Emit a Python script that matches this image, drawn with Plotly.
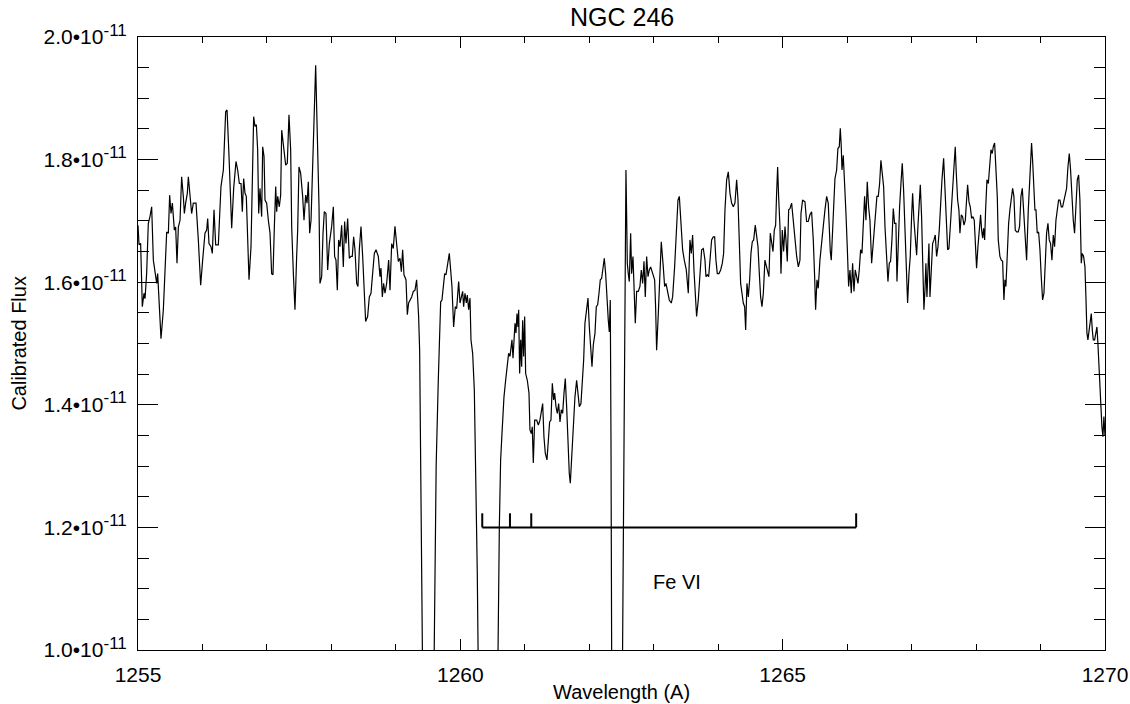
import plotly.graph_objects as go

# ---------------- data (flux in units of 1e-11) ----------------
WAVELENGTH = [
    1255.000, 1255.016, 1255.041, 1255.067, 1255.093, 1255.109, 1255.134, 1255.160, 1255.186, 1255.212,
    1255.238, 1255.264, 1255.290, 1255.305, 1255.326, 1255.357, 1255.393, 1255.419, 1255.445, 1255.471,
    1255.491, 1255.512, 1255.533, 1255.564, 1255.584, 1255.605, 1255.626, 1255.652, 1255.677, 1255.703,
    1255.719, 1255.739, 1255.765, 1255.781, 1255.807, 1255.832, 1255.858, 1255.900, 1255.936, 1255.972,
    1256.003, 1256.039, 1256.065, 1256.081, 1256.101, 1256.132, 1256.153, 1256.179, 1256.205, 1256.246,
    1256.287, 1256.324, 1256.360, 1256.381, 1256.412, 1256.453, 1256.484, 1256.520, 1256.546, 1256.572,
    1256.598, 1256.618, 1256.639, 1256.660, 1256.680, 1256.722, 1256.753, 1256.774, 1256.794, 1256.815,
    1256.836, 1256.856, 1256.872, 1256.892, 1256.918, 1256.934, 1256.955, 1256.970, 1256.996, 1257.022,
    1257.048, 1257.073, 1257.094, 1257.115, 1257.136, 1257.151, 1257.167, 1257.192, 1257.213, 1257.229,
    1257.260, 1257.291, 1257.316, 1257.342, 1257.368, 1257.384, 1257.410, 1257.435, 1257.461, 1257.477,
    1257.497, 1257.523, 1257.554, 1257.575, 1257.601, 1257.622, 1257.642, 1257.663, 1257.684, 1257.720,
    1257.756, 1257.771, 1257.787, 1257.808, 1257.823, 1257.849, 1257.870, 1257.890, 1257.916, 1257.942,
    1257.968,
    1258.004, 1258.030, 1258.050, 1258.071, 1258.092, 1258.112, 1258.133, 1258.159, 1258.185, 1258.205,
    1258.226, 1258.252, 1258.278, 1258.304, 1258.324, 1258.345, 1258.366, 1258.392, 1258.412, 1258.433,
    1258.459, 1258.485, 1258.511, 1258.531, 1258.562, 1258.588, 1258.614, 1258.640, 1258.666, 1258.692,
    1258.728, 1258.754, 1258.769, 1258.790, 1258.810, 1258.831, 1258.857, 1258.888, 1258.909, 1258.935,
    1258.960, 1258.986, 1259.012, 1259.038, 1259.064, 1259.085, 1259.105, 1259.126, 1259.157, 1259.178,
    1259.198, 1259.245, 1259.271, 1259.297, 1259.322, 1259.338, 1259.353, 1259.369,
    1259.420, 1259.585, 1259.625, 1259.658, 1259.684, 1259.695,
    1259.715, 1259.736, 1259.757, 1259.777, 1259.798, 1259.829, 1259.850, 1259.870, 1259.896, 1259.922,
    1259.943, 1259.974, 1259.995, 1260.015, 1260.036, 1260.051, 1260.072, 1260.093, 1260.108, 1260.129,
    1260.150, 1260.165, 1260.191, 1260.217, 1260.243, 1260.263,
    1260.285, 1260.575, 1260.605, 1260.625,
    1260.646, 1260.677, 1260.703, 1260.729, 1260.749, 1260.770, 1260.786, 1260.801, 1260.817, 1260.832,
    1260.848, 1260.863, 1260.879, 1260.894, 1260.905, 1260.920, 1260.936, 1260.951, 1260.967, 1260.982,
    1260.998, 1261.013, 1261.039, 1261.065, 1261.080, 1261.101, 1261.116, 1261.132, 1261.153, 1261.184,
    1261.210, 1261.235, 1261.256, 1261.277, 1261.297, 1261.318, 1261.344, 1261.365, 1261.385, 1261.406,
    1261.427, 1261.447, 1261.463, 1261.484, 1261.504, 1261.525, 1261.546, 1261.566, 1261.587, 1261.608,
    1261.628, 1261.649, 1261.670, 1261.690, 1261.706, 1261.727, 1261.752, 1261.778, 1261.804, 1261.825,
    1261.846, 1261.871, 1261.892, 1261.913, 1261.933, 1261.959, 1261.980, 1262.001, 1262.021, 1262.042,
    1262.063, 1262.089, 1262.109, 1262.130, 1262.151, 1262.171, 1262.192, 1262.213, 1262.233, 1262.254,
    1262.275, 1262.295, 1262.311, 1262.326, 1262.337,
    1262.350, 1262.510, 1262.540,
    1262.569, 1262.580, 1262.590, 1262.605, 1262.621, 1262.642, 1262.657, 1262.678, 1262.699, 1262.714,
    1262.735, 1262.761, 1262.786, 1262.807, 1262.828, 1262.849, 1262.869, 1262.890, 1262.911, 1262.931,
    1262.952, 1262.983, 1263.014, 1263.029, 1263.045, 1263.071, 1263.097, 1263.117, 1263.148, 1263.169,
    1263.190, 1263.216, 1263.241, 1263.272, 1263.293, 1263.324, 1263.355, 1263.376, 1263.397, 1263.422,
    1263.448, 1263.474, 1263.505, 1263.536, 1263.562, 1263.583, 1263.603, 1263.624, 1263.645, 1263.665,
    1263.691, 1263.717, 1263.743, 1263.769, 1263.795, 1263.810, 1263.831, 1263.852, 1263.872, 1263.898,
    1263.924, 1263.945, 1263.965, 1263.986, 1264.012, 1264.038, 1264.064, 1264.084, 1264.105, 1264.131,
    1264.157, 1264.183, 1264.208, 1264.234, 1264.260, 1264.286, 1264.307, 1264.327, 1264.348, 1264.369,
    1264.389, 1264.410, 1264.426, 1264.446, 1264.467, 1264.488, 1264.508, 1264.529, 1264.550, 1264.575,
    1264.596, 1264.617, 1264.638, 1264.658, 1264.679, 1264.700, 1264.725, 1264.746, 1264.767, 1264.787,
    1264.808, 1264.829, 1264.850, 1264.870, 1264.891, 1264.906, 1264.922, 1264.937, 1264.958, 1264.974,
    1264.994, 1265.015, 1265.036, 1265.051, 1265.072, 1265.093, 1265.113, 1265.139, 1265.155, 1265.175,
    1265.196, 1265.217, 1265.243,
    1265.268, 1265.284, 1265.309, 1265.346, 1265.371, 1265.397, 1265.423, 1265.449, 1265.475, 1265.496,
    1265.511, 1265.532, 1265.552, 1265.578, 1265.604, 1265.630, 1265.656, 1265.682, 1265.707, 1265.723,
    1265.739, 1265.754, 1265.775, 1265.795, 1265.811, 1265.837, 1265.857, 1265.878, 1265.894, 1265.909,
    1265.920, 1265.940, 1265.961, 1265.982, 1266.002, 1266.023, 1266.044, 1266.064, 1266.085, 1266.106,
    1266.126, 1266.147, 1266.168, 1266.188, 1266.209, 1266.230, 1266.250, 1266.271, 1266.292, 1266.312,
    1266.333, 1266.354, 1266.380, 1266.400, 1266.421, 1266.442, 1266.462, 1266.483, 1266.504, 1266.524,
    1266.545, 1266.566, 1266.587, 1266.612, 1266.633, 1266.654, 1266.674, 1266.695, 1266.716, 1266.736,
    1266.757, 1266.773, 1266.793, 1266.814, 1266.835, 1266.855, 1266.876, 1266.897, 1266.917, 1266.938,
    1266.959, 1266.979, 1267.000, 1267.016, 1267.036, 1267.057, 1267.078, 1267.098, 1267.119, 1267.135,
    1267.155, 1267.176, 1267.191, 1267.207, 1267.222, 1267.238, 1267.253, 1267.269, 1267.285, 1267.305,
    1267.326, 1267.347, 1267.367, 1267.388, 1267.409, 1267.429, 1267.450, 1267.471, 1267.497, 1267.517,
    1267.538, 1267.559, 1267.579, 1267.600, 1267.621, 1267.641, 1267.662, 1267.677, 1267.693, 1267.714,
    1267.734, 1267.750, 1267.771, 1267.791, 1267.812, 1267.833, 1267.853, 1267.869, 1267.890, 1267.910,
    1267.931, 1267.952, 1267.972, 1267.993, 1268.008, 1268.029, 1268.050, 1268.070, 1268.086, 1268.102,
    1268.117, 1268.133, 1268.148, 1268.169, 1268.190, 1268.210, 1268.231, 1268.251, 1268.267, 1268.288,
    1268.308, 1268.329, 1268.344, 1268.370, 1268.391, 1268.412, 1268.432, 1268.448, 1268.463, 1268.484,
    1268.505, 1268.525, 1268.546, 1268.567, 1268.587, 1268.608, 1268.629, 1268.655, 1268.675, 1268.696,
    1268.717, 1268.737, 1268.758, 1268.784, 1268.810, 1268.836, 1268.861, 1268.877, 1268.892, 1268.913,
    1268.929, 1268.949, 1268.970, 1268.991, 1269.011, 1269.032, 1269.053, 1269.073, 1269.094, 1269.115,
    1269.135, 1269.156, 1269.177, 1269.198, 1269.218, 1269.239, 1269.260, 1269.280, 1269.301, 1269.322,
    1269.342, 1269.363, 1269.384, 1269.404, 1269.425, 1269.446, 1269.466, 1269.487, 1269.508, 1269.528,
    1269.549, 1269.570, 1269.591, 1269.611, 1269.632, 1269.647, 1269.668, 1269.689, 1269.704, 1269.720,
    1269.735, 1269.751, 1269.766, 1269.787, 1269.803, 1269.818, 1269.839, 1269.859, 1269.875, 1269.890,
    1269.911, 1269.932, 1269.952, 1269.968, 1269.983, 1270.000,
]

FLUX = [
    1.693, 1.661, 1.663, 1.560, 1.582, 1.573, 1.614, 1.696, 1.707, 1.723,
    1.636, 1.614, 1.598, 1.614, 1.560, 1.508, 1.555, 1.614, 1.682, 1.680,
    1.742, 1.712, 1.729, 1.685, 1.690, 1.631, 1.690, 1.701, 1.772, 1.740,
    1.712, 1.729, 1.745, 1.772, 1.740, 1.712, 1.729, 1.729, 1.669, 1.595,
    1.636, 1.680, 1.685, 1.704, 1.663, 1.658, 1.647, 1.718, 1.661, 1.661,
    1.756, 1.783, 1.878, 1.881, 1.805, 1.688, 1.753, 1.797, 1.783, 1.761,
    1.761, 1.715, 1.769, 1.745, 1.740, 1.604, 1.658, 1.778, 1.870, 1.854,
    1.857, 1.816, 1.712, 1.753, 1.707, 1.821, 1.805, 1.734, 1.729, 1.701,
    1.680, 1.614, 1.612, 1.690, 1.756, 1.715, 1.740, 1.723, 1.742, 1.848,
    1.816, 1.791, 1.794, 1.873, 1.816, 1.690, 1.614, 1.555, 1.642, 1.685,
    1.788, 1.778, 1.740, 1.701, 1.742, 1.729, 1.764, 1.680, 1.701, 1.827,
    1.954, 1.886, 1.827, 1.723, 1.598, 1.609, 1.680, 1.715, 1.712, 1.620,
    1.663,
    1.691, 1.723, 1.642, 1.636, 1.587, 1.669, 1.658, 1.693, 1.625, 1.699,
    1.663, 1.704, 1.639, 1.642, 1.642, 1.674, 1.653, 1.598, 1.593, 1.653,
    1.691, 1.642, 1.576, 1.536, 1.544, 1.576, 1.582, 1.615, 1.647, 1.653,
    1.642, 1.609, 1.623, 1.576, 1.598, 1.582, 1.598, 1.636, 1.587, 1.663,
    1.655, 1.691, 1.663, 1.634, 1.639, 1.617, 1.653, 1.612, 1.604, 1.547,
    1.566, 1.576, 1.585, 1.587, 1.604, 1.576, 1.544, 1.489,
    0.900, 0.900, 1.300, 1.440, 1.517, 1.568,
    1.571, 1.590, 1.614, 1.612, 1.625, 1.647, 1.620, 1.593, 1.527, 1.560,
    1.557, 1.601, 1.566, 1.576, 1.585, 1.560, 1.582, 1.566, 1.579, 1.555,
    1.574, 1.506, 1.484, 1.424, 1.288, 1.125,
    0.900, 0.900, 1.201, 1.310,
    1.353, 1.413, 1.440, 1.462, 1.484, 1.479, 1.495, 1.506, 1.476, 1.506,
    1.533, 1.517, 1.549, 1.527, 1.555, 1.451, 1.506, 1.462, 1.538, 1.479,
    1.544, 1.451, 1.440, 1.419, 1.359, 1.353, 1.364, 1.305, 1.375, 1.375,
    1.367, 1.375, 1.386, 1.402, 1.348, 1.321, 1.310, 1.343, 1.372, 1.375,
    1.435, 1.408, 1.419, 1.397, 1.386, 1.402, 1.372, 1.392, 1.386, 1.419,
    1.443, 1.397, 1.337, 1.288, 1.272, 1.315, 1.364, 1.413, 1.440, 1.421,
    1.397, 1.402, 1.430, 1.473, 1.533, 1.552, 1.574, 1.527, 1.495, 1.462,
    1.498, 1.517, 1.560, 1.563, 1.582, 1.604, 1.606, 1.620, 1.639, 1.614,
    1.566, 1.538, 1.519, 1.571, 1.343,
    0.900, 0.900, 1.400,
    1.783, 1.707, 1.631, 1.614, 1.601, 1.680, 1.614, 1.642, 1.571, 1.533,
    1.585, 1.585, 1.593, 1.620, 1.598, 1.634, 1.576, 1.642, 1.609, 1.620,
    1.625, 1.614, 1.604, 1.560, 1.489, 1.549, 1.614, 1.666, 1.625, 1.593,
    1.598, 1.582, 1.571, 1.566, 1.576, 1.625, 1.691, 1.734, 1.740, 1.691,
    1.653, 1.636, 1.620, 1.582, 1.669, 1.647, 1.677, 1.620, 1.571, 1.544,
    1.571, 1.614, 1.653, 1.655, 1.636, 1.609, 1.612, 1.609, 1.639, 1.669,
    1.674, 1.674, 1.636, 1.614, 1.614, 1.620, 1.631, 1.647, 1.718, 1.767,
    1.780, 1.745, 1.729, 1.723, 1.729, 1.767, 1.734, 1.653, 1.598, 1.582,
    1.566, 1.560, 1.522, 1.598, 1.576, 1.604, 1.647, 1.666, 1.669, 1.693,
    1.674, 1.658, 1.614, 1.576, 1.560, 1.582, 1.636, 1.625, 1.620, 1.609,
    1.680, 1.663, 1.650, 1.685, 1.693, 1.745, 1.788, 1.740, 1.691, 1.614,
    1.685, 1.650, 1.691, 1.669, 1.634, 1.718, 1.720, 1.729, 1.710, 1.685,
    1.669, 1.642, 1.625,
    1.636, 1.712, 1.734, 1.731, 1.699, 1.699, 1.710, 1.715, 1.669, 1.609,
    1.555, 1.604, 1.590, 1.636, 1.669, 1.691, 1.718, 1.740, 1.729, 1.674,
    1.650, 1.636, 1.691, 1.734, 1.769, 1.783, 1.818, 1.821, 1.851, 1.821,
    1.783, 1.807, 1.767, 1.712, 1.658, 1.593, 1.620, 1.582, 1.631, 1.585,
    1.620, 1.609, 1.598, 1.620, 1.653, 1.647, 1.685, 1.740, 1.701, 1.764,
    1.723, 1.701, 1.631, 1.658, 1.696, 1.718, 1.740, 1.740, 1.761, 1.799,
    1.772, 1.756, 1.691, 1.647, 1.601, 1.631, 1.634, 1.669, 1.720, 1.696,
    1.696, 1.601, 1.680, 1.723, 1.761, 1.794, 1.750, 1.680, 1.604, 1.566,
    1.614, 1.642, 1.707, 1.745, 1.701, 1.674, 1.644, 1.691, 1.734, 1.759,
    1.707, 1.625, 1.555, 1.587, 1.631, 1.576, 1.625, 1.663, 1.576, 1.631,
    1.663, 1.669, 1.677, 1.642, 1.658, 1.685, 1.729, 1.767, 1.802, 1.756,
    1.685, 1.653, 1.655, 1.691, 1.723, 1.745, 1.788, 1.821, 1.778, 1.734,
    1.718, 1.680, 1.710, 1.707, 1.693, 1.701, 1.734, 1.759, 1.731, 1.723,
    1.704, 1.707, 1.701, 1.663, 1.623, 1.658, 1.685, 1.710, 1.685, 1.672,
    1.688, 1.669, 1.718, 1.767, 1.761, 1.797, 1.816, 1.810, 1.821, 1.827,
    1.788, 1.740, 1.669, 1.642, 1.636, 1.634, 1.571, 1.604, 1.593, 1.647,
    1.696, 1.718, 1.734, 1.753, 1.740, 1.685, 1.682, 1.682, 1.691, 1.740,
    1.753, 1.718, 1.680, 1.636, 1.718, 1.788, 1.827, 1.799, 1.750, 1.718,
    1.718, 1.680, 1.682, 1.653, 1.609, 1.571, 1.582, 1.636, 1.680, 1.696,
    1.669, 1.663, 1.636, 1.677, 1.658, 1.701, 1.718, 1.734, 1.734, 1.723,
    1.723, 1.734, 1.745, 1.753, 1.788, 1.810, 1.783, 1.734, 1.701, 1.680,
    1.723, 1.767, 1.775, 1.734, 1.631, 1.647, 1.642, 1.625, 1.576, 1.517,
    1.506, 1.517, 1.527, 1.549, 1.522, 1.506, 1.506, 1.522, 1.527, 1.500,
    1.451, 1.408, 1.364, 1.348, 1.381, 1.350,
]

# Fe VI line identification marks
FEVI_WAVELENGTHS = [1260.34, 1260.77, 1261.10, 1266.14]
FEVI_LEVEL = 1.2
FEVI_TICK = 0.023
FEVI_LABEL = "Fe VI"
FEVI_LABEL_POS = (1263.36, 1.111)

TITLE = "NGC 246"
X_TITLE = "Wavelength (A)"
Y_TITLE = "Calibrated Flux"
X_TICKS = [1255, 1260, 1265, 1270]
Y_TICKS = [1.0, 1.2, 1.4, 1.6, 1.8, 2.0]
Y_TICKTEXT = [f"{v:.1f}\u202210<sup><span style='font-size:17px'>-11</span></sup>"
              for v in Y_TICKS]

FONT = "Liberation Sans, Arial, Helvetica, sans-serif"

# ---------------- figure ----------------
fig = go.Figure()
fig.add_trace(go.Scatter(
    x=WAVELENGTH, y=FLUX, mode="lines",
    line=dict(color="black", width=1.2),
    hoverinfo="skip", showlegend=False,
))

# Fe VI bar with tick marks
bx, by = [min(FEVI_WAVELENGTHS), max(FEVI_WAVELENGTHS)], [FEVI_LEVEL, FEVI_LEVEL]
bx.append(None); by.append(None)
for w in FEVI_WAVELENGTHS:
    bx += [w, w, None]
    by += [FEVI_LEVEL, FEVI_LEVEL + FEVI_TICK, None]
fig.add_trace(go.Scatter(
    x=bx, y=by, mode="lines", line=dict(color="black", width=2),
    hoverinfo="skip", showlegend=False,
))

fig.add_annotation(x=FEVI_LABEL_POS[0], y=FEVI_LABEL_POS[1], text=FEVI_LABEL,
                   showarrow=False, font=dict(family=FONT, size=20, color="black"),
                   xanchor="center", yanchor="middle")

# axis titles & main title as annotations for exact placement
fig.add_annotation(x=0.5, y=-0.0685, xref="paper", yref="paper", text=X_TITLE,
                   showarrow=False, font=dict(family=FONT, size=20, color="black"),
                   xanchor="center", yanchor="middle")
fig.add_annotation(x=-0.124, y=0.5, xref="paper", yref="paper", text=Y_TITLE,
                   textangle=-90, showarrow=False,
                   font=dict(family=FONT, size=20, color="black"),
                   xanchor="center", yanchor="middle")
fig.add_annotation(x=0.5, y=1.0, xref="paper", yref="paper", text=TITLE,
                   showarrow=False, font=dict(family=FONT, size=25, color="black"),
                   xanchor="center", yanchor="bottom", yshift=4)

fig.update_xaxes(
    range=[1255, 1270], tickvals=X_TICKS, ticktext=[str(v) for v in X_TICKS],
    ticks="inside", ticklen=11, tickwidth=1, tickcolor="black",
    minor=dict(dtick=1, tick0=1255, ticks="inside", ticklen=6, tickcolor="black", tickwidth=1),
    showline=True, linecolor="black", linewidth=1, mirror="ticks",
    showgrid=False, zeroline=False, ticklabelstandoff=6,
    tickfont=dict(family=FONT, size=21, color="black"),
)
fig.update_yaxes(
    range=[1.0, 2.0], tickvals=Y_TICKS, ticktext=Y_TICKTEXT,
    ticks="inside", ticklen=20, tickwidth=1, tickcolor="black",
    minor=dict(dtick=0.05, tick0=1.0, ticks="inside", ticklen=11, tickcolor="black", tickwidth=1),
    showline=True, linecolor="black", linewidth=1, mirror="ticks",
    showgrid=False, zeroline=False, ticklabelstandoff=6,
    tickfont=dict(family=FONT, size=21, color="black"),
)

fig.update_layout(
    width=1130, height=704,
    margin=dict(l=138, r=25, t=37, b=54, autoexpand=False),
    paper_bgcolor="white", plot_bgcolor="white",
    font=dict(family=FONT, color="black"),
    showlegend=False,
)

fig.write_html("out.html", include_plotlyjs=True, full_html=True,
               config={"displayModeBar": False})
